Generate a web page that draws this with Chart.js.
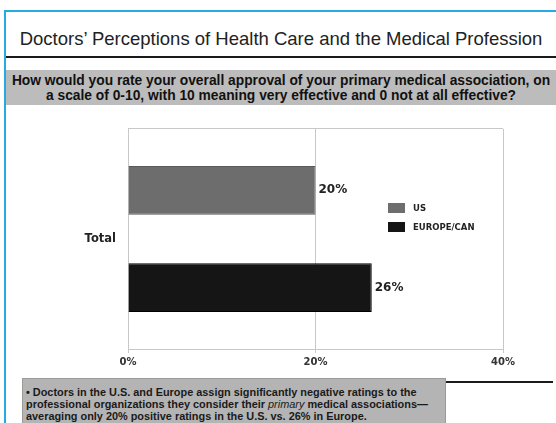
<!DOCTYPE html>
<html>
<head>
<meta charset="utf-8">
<script src="https://cdn.jsdelivr.net/npm/chart.js@4.4.1/dist/chart.umd.min.js"></script>
<style>
  html, body { margin: 0; padding: 0; }
  body { width: 556px; height: 423px; overflow: hidden; position: relative; background: #fff; font-family: "Liberation Sans", Arial, sans-serif; }
  .frame { position: absolute; left: 4px; top: 10px; width: 600px; height: 500px; border: 2px solid #27a9e1; box-sizing: border-box; }
  .title { position: absolute; left: 6px; right: 0; top: 28px; text-align: center; font-size: 18.5px; color: #222; white-space: nowrap; }
  .rule { position: absolute; left: 6px; right: 0; top: 56px; height: 2px; background: #1a1a1a; }
  .question { position: absolute; left: 6px; right: 0; top: 70px; height: 35px; background: #bcbcbc; text-align: center; white-space: nowrap;
              font-weight: bold; font-size: 13.8px; line-height: 15px; color: #111; padding-top: 3px; box-sizing: border-box; }
  #wrap { position: absolute; left: 0; top: 110px; width: 556px; height: 265px; }
  .legend { position: absolute; left: 388px; top: 203px; font-family: "DejaVu Sans", sans-serif; font-weight: bold; font-size: 8.5px; color: #222; }
  .legend div { height: 10px; line-height: 10px; margin-bottom: 9px; white-space: nowrap; }
  .legend span.box { display: inline-block; width: 17px; height: 10px; vertical-align: top; margin-right: 8px; }
  .note { position: absolute; left: 22px; top: 378px; width: 424px; height: 60px; background: #b4b4b4; border: 1px solid #9a9a9a; box-sizing: border-box;
          font-weight: bold; font-size: 10.9px; line-height: 12px; color: #1a1a1a; padding: 7px 0 0 3px; white-space: nowrap; }
  .note i { font-weight: normal; }
  .rule2 { position: absolute; left: 446px; top: 381px; width: 107px; height: 2px; background: #1a1a1a; }
</style>
</head>
<body>
<div class="frame"></div>
<div class="title">Doctors’ Perceptions of Health Care and the Medical Profession</div>
<div class="rule"></div>
<div class="question">How would you rate your overall approval of your primary medical association, on<br>a scale of 0-10, with 10 meaning very effective and 0 not at all effective?</div>
<div id="wrap"><canvas id="chart"></canvas></div>
<div class="legend" id="legend"></div>
<div class="note">• Doctors in the U.S. and Europe assign significantly negative ratings to the<br>professional organizations they consider their <i>primary</i> medical associations—<br>averaging only 20% positive ratings in the U.S. vs. 26% in Europe.</div>
<div class="rule2"></div>

<script>
var categories = ["Total"];
var seriesNames = ["US", "EUROPE/CAN"];
var usValues = [20];
var europeValues = [26];
var xTicks = [0, 20, 40];
var seriesColors = ["#6d6d6d", "#151515"];

// value labels at the end of each bar
var barLabels = {
  id: "barLabels",
  afterDatasetsDraw: function(chart) {
    var ctx = chart.ctx;
    ctx.save();
    ctx.font = "bold 12px 'DejaVu Sans'";
    ctx.fillStyle = "#222";
    ctx.textBaseline = "middle";
    chart.data.datasets.forEach(function(ds, i) {
      chart.getDatasetMeta(i).data.forEach(function(bar, j) {
        ctx.fillText(ds.data[j] + "%", bar.x + 3, bar.y);
      });
    });
    ctx.restore();
  }
};

var ctx = document.getElementById("chart");
var chart = new Chart(ctx, {
  type: "bar",
  data: {
    labels: categories,
    datasets: [
      { label: seriesNames[0], data: usValues, backgroundColor: seriesColors[0], borderColor: "#5a5a5a", borderWidth: 1 },
      { label: seriesNames[1], data: europeValues, backgroundColor: seriesColors[1], borderColor: "#000", borderWidth: 1 }
    ]
  },
  options: {
    indexAxis: "y",
    responsive: true,
    maintainAspectRatio: false,
    animation: false,
    categoryPercentage: 0.884,
    barPercentage: 0.5,
    layout: { padding: { top: 15, right: 53, left: 0, bottom: 0 } },
    plugins: { legend: { display: false }, tooltip: { enabled: false } },
    scales: {
      x: {
        min: xTicks[0],
        max: xTicks[xTicks.length - 1],
        afterBuildTicks: function(scale) { scale.ticks = xTicks.map(function(v) { return { value: v }; }); },
        afterFit: function(scale) { scale.height = 26; },
        grid: { color: "#c8c8c8", tickLength: 4 },
        border: { color: "#c8c8c8" },
        ticks: {
          padding: 3,
          color: "#333",
          font: { family: "DejaVu Sans", weight: "bold", size: 10 },
          callback: function(v) { return v + "%"; }
        }
      },
      y: {
        afterFit: function(scale) { scale.width = 128; },
        grid: { color: "#c8c8c8", drawTicks: false, offset: true },
        border: { color: "#c8c8c8" },
        ticks: { padding: 12, color: "#222", font: { family: "DejaVu Sans", weight: "bold", size: 11.5 } }
      }
    }
  },
  plugins: [barLabels]
});

var legendEl = document.getElementById("legend");
chart.data.datasets.forEach(function(ds) {
  var row = document.createElement("div");
  row.innerHTML = '<span class="box" style="background:' + ds.backgroundColor + '"></span>' + ds.label;
  legendEl.appendChild(row);
});
</script>
</body>
</html>
